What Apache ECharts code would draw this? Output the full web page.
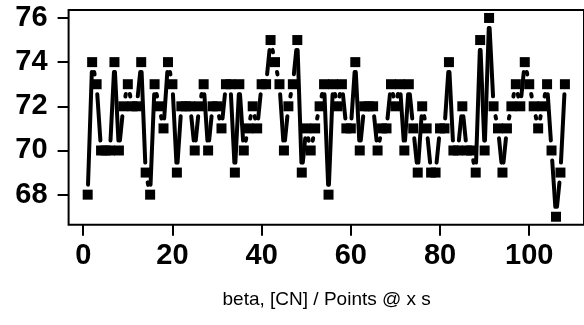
<!DOCTYPE html>
<html>
<head>
<meta charset="utf-8">
<script src="https://cdn.jsdelivr.net/npm/echarts@6/dist/echarts.min.js"></script>
<style>
html,body{margin:0;padding:0;background:#fff;}
#chart{width:584px;height:325px;}
</style>
</head>
<body>
<div id="chart"></div>
<script>
const xValues = Array.from({length: 108}, (_, i) => i + 1);
const yValues = [
  68,74,73,70,70,70,74,70,72,73,
  72,72,74,69,68,73,72,71,74,73,
  69,72,72,72,70,72,73,70,72,72,
  71,73,73,69,73,70,71,72,71,73,
  73,75,74,73,70,72,73,75,69,71,
  70,71,72,73,68,73,72,73,71,71,
  74,70,72,72,72,70,71,71,73,72,
  73,70,73,71,69,72,71,69,69,71,
  71,74,70,70,72,70,70,69,75,70,
  76,72,71,69,71,72,73,72,74,73,
  72,71,72,73,70,67,69,73
];
const xTicks = [0, 20, 40, 60, 80, 100];
const yTicks = [68, 70, 72, 74, 76];
const xLabel = 'beta, [CN] / Points @ x s';

const pts = xValues.map((x, i) => [x, yValues[i]]);
const gap = 10;

const chart = echarts.init(document.getElementById('chart'), null, {renderer: 'canvas'});
chart.setOption({
  animation: false,
  backgroundColor: '#fff',
  grid: {left: 68.6, top: 10, width: 516.3, height: 214.7, show: true, borderColor: '#000', borderWidth: 2, backgroundColor: 'transparent'},
  xAxis: {
    type: 'value', min: -3.28, max: 112.28,
    splitLine: {show: false},
    axisLine: {show: false, onZero: false},
    axisTick: {show: true, inside: false, length: 11, customValues: xTicks, lineStyle: {color: '#000', width: 2}},
    axisLabel: {customValues: xTicks, margin: 17, color: '#000', fontSize: 29, fontWeight: 'bold', fontFamily: 'Liberation Sans, Arial, sans-serif'}
  },
  yAxis: {
    type: 'value', min: 66.64, max: 76.36,
    splitLine: {show: false},
    axisLine: {show: false, onZero: false},
    axisTick: {show: true, inside: false, length: 11, customValues: yTicks, lineStyle: {color: '#000', width: 2}},
    axisLabel: {customValues: yTicks, margin: 21, color: '#000', fontSize: 29, fontWeight: 'bold', fontFamily: 'Liberation Sans, Arial, sans-serif'}
  },
  graphic: [{
    type: 'text', x: 326.7, y: 300,
    style: {text: xLabel, fill: '#000', font: '19px "Liberation Sans", Arial, sans-serif', textAlign: 'center', textVerticalAlign: 'middle'}
  }],
  series: [
    {
      type: 'custom',
      data: pts,
      clip: true,
      renderItem: function (params, api) {
        const i = params.dataIndex;
        if (i >= pts.length - 1) return null;
        const p0 = api.coord([api.value(0), api.value(1)]);
        const p1 = api.coord(pts[i + 1]);
        const dx = p1[0] - p0[0], dy = p1[1] - p0[1];
        const len = Math.hypot(dx, dy);
        if (len <= 2 * gap) return null;
        const ux = dx / len, uy = dy / len;
        return {
          type: 'line',
          shape: {x1: p0[0] + ux * gap, y1: p0[1] + uy * gap, x2: p1[0] - ux * gap, y2: p1[1] - uy * gap},
          style: {stroke: '#000', lineWidth: 4, lineCap: 'round', opacity: 1}
        };
      }
    },
    {
      type: 'scatter',
      data: pts,
      symbol: 'rect',
      symbolSize: 10,
      itemStyle: {color: '#000', opacity: 1}
    }
  ]
});
</script>
</body>
</html>
